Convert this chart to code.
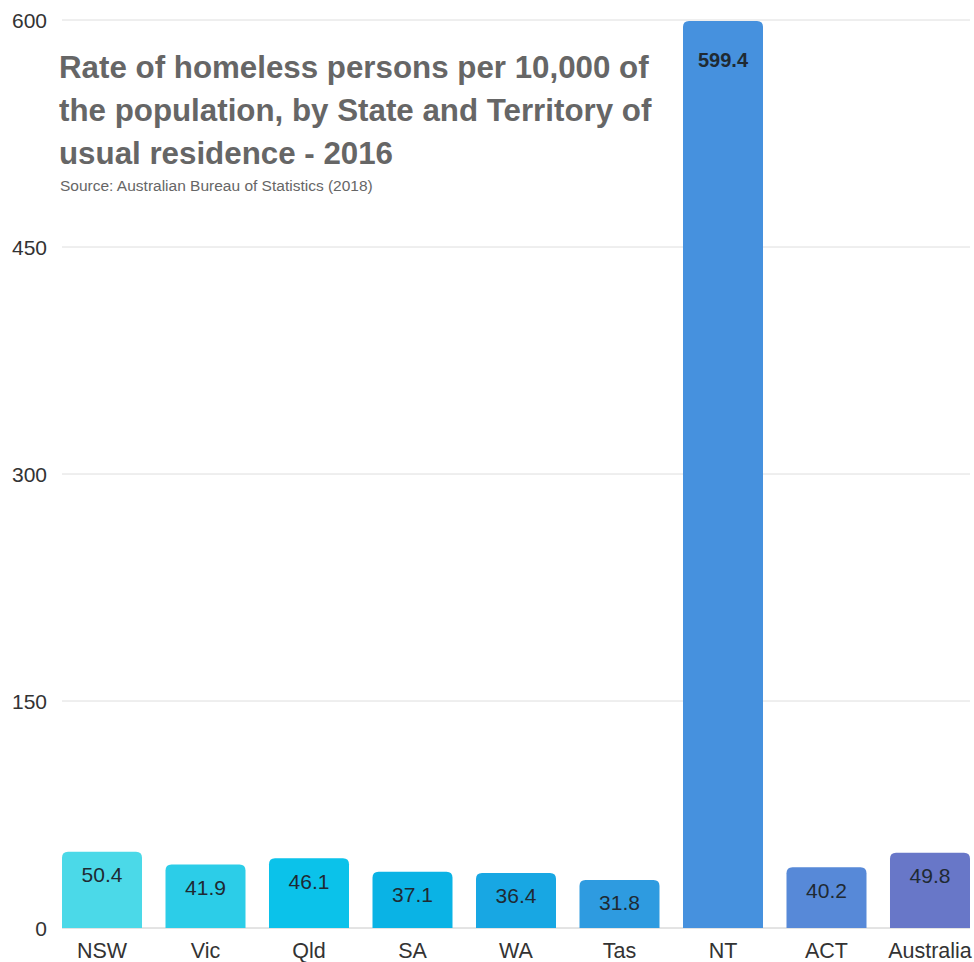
<!DOCTYPE html>
<html>
<head>
<meta charset="utf-8">
<script src="https://cdn.jsdelivr.net/npm/d3@7"></script>
<style>
  body { margin: 0; background: #fff; }
  svg text { font-family: "Liberation Sans", Arial, sans-serif; }
</style>
</head>
<body>
<div id="chart"></div>
<script>
const categories = ['NSW', 'Vic', 'Qld', 'SA', 'WA', 'Tas', 'NT', 'ACT', 'Australia'];
const rates = [50.4, 41.9, 46.1, 37.1, 36.4, 31.8, 599.4, 40.2, 49.8];
const barColors = ['#4bd9e8', '#2ccde8', '#0bc2ea', '#0ab3e5', '#18a7e3', '#2e9be0', '#4691de', '#5789d8', '#6877c8'];
const yTicks = [0, 150, 300, 450, 600];

const width = 974;
const height = 962;
const margin = { top: 20, right: 4, bottom: 34, left: 62 };

const svg = d3
  .select('#chart')
  .append('svg')
  .attr('width', width)
  .attr('height', height);

const x = d3
  .scaleBand()
  .domain(categories)
  .range([margin.left, width - margin.right])
  .paddingInner(0.227)
  .paddingOuter(0);

const y = d3
  .scaleLinear()
  .domain([0, 600])
  .range([height - margin.bottom, margin.top]);

// gridlines
svg.append('g')
  .selectAll('line')
  .data(yTicks)
  .enter()
  .append('line')
  .attr('x1', margin.left)
  .attr('x2', width - margin.right)
  .attr('y1', d => y(d))
  .attr('y2', d => y(d))
  .attr('stroke', d => (d === 0 ? '#c8c8c8' : '#dedede'))
  .attr('stroke-width', 1);

// y tick labels
svg.append('g')
  .selectAll('text')
  .data(yTicks)
  .enter()
  .append('text')
  .attr('x', 47)
  .attr('y', d => y(d))
  .attr('dy', '0.36em')
  .attr('text-anchor', 'end')
  .attr('font-size', 21)
  .attr('fill', '#333')
  .text(d => d);

// bars with rounded tops
const r = 6;
const bw = x.bandwidth();
svg.append('g')
  .selectAll('path')
  .data(rates)
  .enter()
  .append('path')
  .attr('fill', (d, i) => barColors[i])
  .attr('d', (d, i) => {
    const x0 = x(categories[i]);
    const y0 = y(d);
    const yb = y(0);
    return `M${x0},${yb}V${y0 + r}Q${x0},${y0} ${x0 + r},${y0}H${x0 + bw - r}Q${x0 + bw},${y0} ${x0 + bw},${y0 + r}V${yb}Z`;
  });

// value labels
svg.append('g')
  .selectAll('text')
  .data(rates)
  .enter()
  .append('text')
  .attr('x', (d, i) => x(categories[i]) + bw / 2)
  .attr('y', d => y(d) + (d > 300 ? 39 : 23))
  .attr('dy', '0.36em')
  .attr('text-anchor', 'middle')
  .attr('font-size', d => (d > 300 ? 20 : 21))
  .attr('font-weight', d => (d > 300 ? 'bold' : 'normal'))
  .attr('fill', '#1f2a33')
  .text(d => d.toFixed(1));

// x labels
svg.append('g')
  .selectAll('text')
  .data(categories)
  .enter()
  .append('text')
  .attr('x', d => x(d) + bw / 2)
  .attr('y', 950)
  .attr('dy', '0.36em')
  .attr('text-anchor', 'middle')
  .attr('font-size', 21.5)
  .attr('fill', '#333')
  .text(d => d);

// title
const titleLines = [
  'Rate of homeless persons per 10,000 of',
  'the population, by State and Territory of',
  'usual residence - 2016',
];
svg.append('g')
  .selectAll('text')
  .data(titleLines)
  .enter()
  .append('text')
  .attr('x', 59)
  .attr('y', (d, i) => 78 + i * 43)
  .attr('font-size', 31.3)
  .attr('font-weight', 'bold')
  .attr('fill', '#666')
  .text(d => d);

svg.append('text')
  .attr('x', 60)
  .attr('y', 191)
  .attr('font-size', 15.5)
  .attr('fill', '#666')
  .text('Source: Australian Bureau of Statistics (2018)');
</script>
</body>
</html>
